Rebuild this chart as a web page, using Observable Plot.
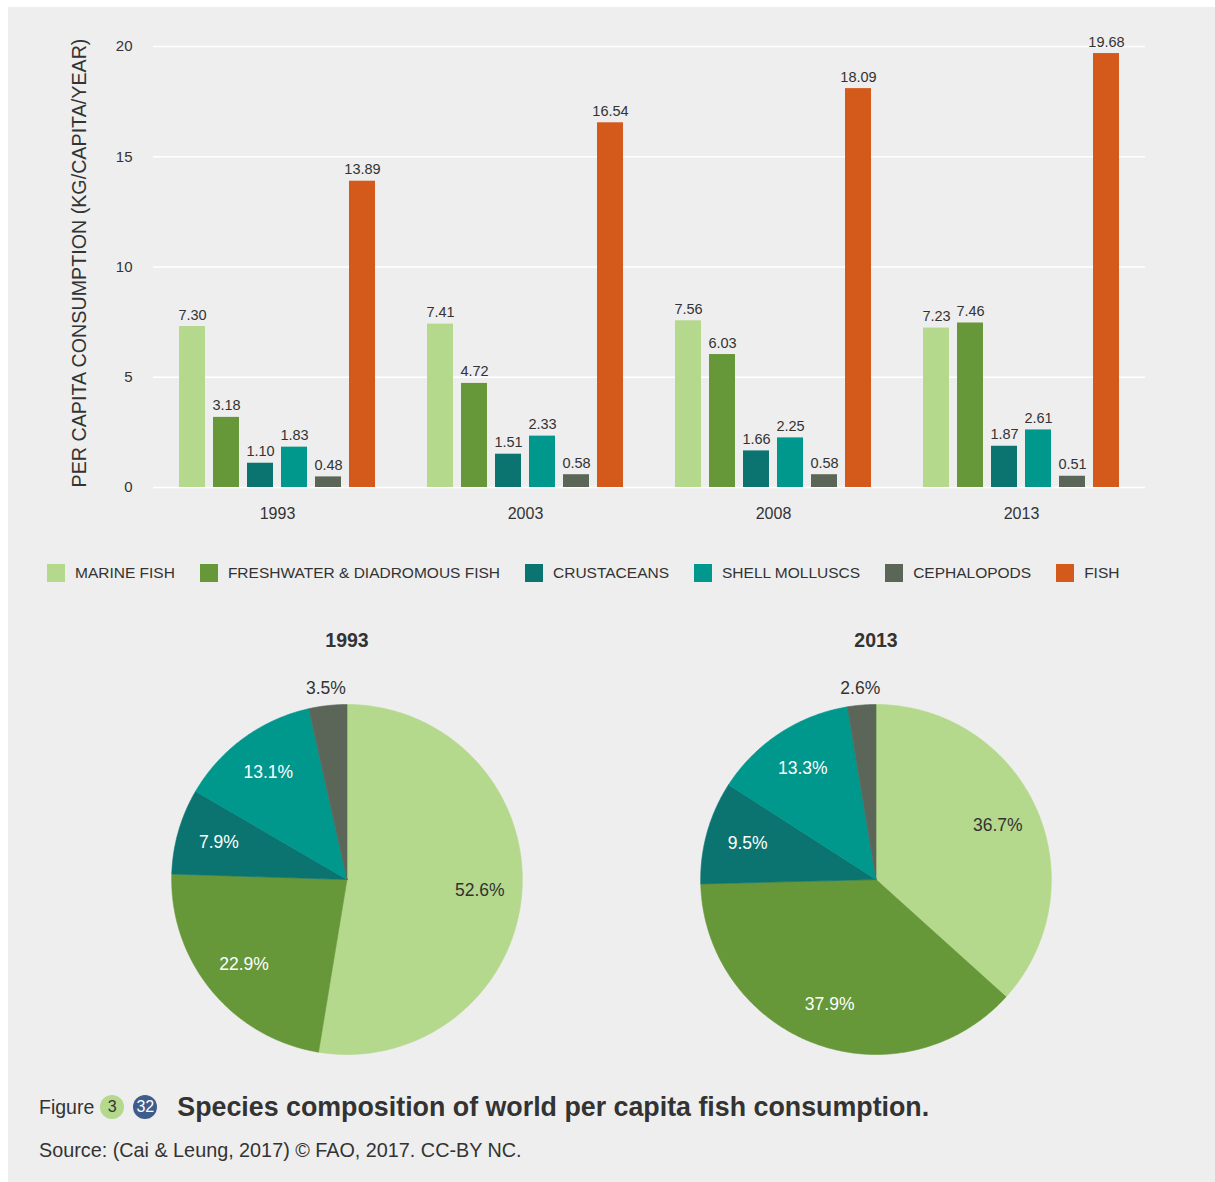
<!DOCTYPE html>
<html>
<head>
<meta charset="utf-8">
<script src="https://cdn.jsdelivr.net/npm/d3@7"></script>
<script src="https://cdn.jsdelivr.net/npm/@observablehq/plot@0.6"></script>
<style>
  html, body { margin: 0; padding: 0; background: #ffffff; }
  body { font-family: "Liberation Sans", Arial, Helvetica, sans-serif; color: #333; }
  #panel { position: absolute; left: 8px; top: 7px; width: 1207px; height: 1175px; background: #eeeeee; overflow: hidden; }
  #bars { position: absolute; left: 0; top: 0; }
  #ylabel { position: absolute; left: 72px; top: 256px; transform: translate(-50%, -50%) rotate(-90deg); white-space: nowrap; font-size: 19.7px; color: #333; line-height: 1; }
  #legend { position: absolute; left: 39px; top: 557px; height: 18px; display: flex; align-items: center; font-size: 15.5px; color: #333; white-space: nowrap; }
  #legend .item { display: flex; align-items: center; margin-right: 25px; }
  #legend .sw { width: 18px; height: 18px; margin-right: 10px; }
  #pies { position: absolute; left: 0; top: 613px; }
  #figline { position: absolute; left: 31px; top: 1085px; height: 30px; display: flex; align-items: center; white-space: nowrap; }
  #figline .fig { font-size: 19.5px; color: #333; margin-right: 6px; }
  #figline .badge { width: 24px; height: 24px; border-radius: 50%; display: flex; align-items: center; justify-content: center; font-size: 16px; margin-right: 9px; }
  #figline .title { font-size: 26.8px; font-weight: bold; color: #333; margin-left: 11px; }
  #source { position: absolute; left: 31px; top: 1128px; height: 30px; line-height: 30px; font-size: 19.8px; color: #333; white-space: nowrap; }
</style>
</head>
<body>
<div id="panel">
  <div id="bars"></div>
  <div id="ylabel"></div>
  <div id="legend"></div>
  <div id="pies"></div>
  <div id="figline"></div>
  <div id="source"></div>
</div>
<script>
// ---------------- data ----------------
const years = ["1993", "2003", "2008", "2013"];
const categories = ["MARINE FISH", "FRESHWATER & DIADROMOUS FISH", "CRUSTACEANS", "SHELL MOLLUSCS", "CEPHALOPODS", "FISH"];
const categoryColors = ["#b4d88c", "#669738", "#0b7471", "#00978d", "#5b6659", "#d35a1a"];
const marineFish = [7.30, 7.41, 7.56, 7.23];
const freshwaterFish = [3.18, 4.72, 6.03, 7.46];
const crustaceans = [1.10, 1.51, 1.66, 1.87];
const shellMolluscs = [1.83, 2.33, 2.25, 2.61];
const cephalopods = [0.48, 0.58, 0.58, 0.51];
const fishTotal = [13.89, 16.54, 18.09, 19.68];
const yTicks = [0, 5, 10, 15, 20];
const yLabel = "PER CAPITA CONSUMPTION (KG/CAPITA/YEAR)";

const pieYears = ["1993", "2013"];
const pieCategories = ["MARINE FISH", "FRESHWATER & DIADROMOUS FISH", "CRUSTACEANS", "SHELL MOLLUSCS", "CEPHALOPODS"];
const pie1993 = [52.6, 22.9, 7.9, 13.1, 3.5];
const pie2013 = [36.7, 37.9, 9.5, 13.3, 2.6];

const figureLabel = "Figure";
const badges = ["3", "32"];
const figureTitle = "Species composition of world per capita fish consumption.";
const sourceText = "Source: (Cai & Leung, 2017) © FAO, 2017. CC-BY NC.";

// ---------------- shared ----------------
const FONT = '"Liberation Sans", Arial, Helvetica, sans-serif';
const TEXT = "#333333";
const colorScale = {domain: categories, range: categoryColors};

// ---------------- bar chart ----------------
const series = [marineFish, freshwaterFish, crustaceans, shellMolluscs, cephalopods, fishTotal];
const barRows = [];
years.forEach((yr, i) => categories.forEach((c, j) => barRows.push({year: yr, cat: c, value: series[j][i]})));
const fmt = d3.format(".2f");

const bars = Plot.plot({
  width: 1207,
  height: 520,
  marginLeft: 145,
  marginRight: 70,
  marginTop: 39,
  marginBottom: 40,
  style: {background: "transparent", fontFamily: FONT, color: TEXT, fontSize: "15px", overflow: "visible"},
  fx: {domain: years, padding: 0, label: null},
  x: {domain: categories, paddingInner: 0.23, paddingOuter: 0.74, axis: null},
  y: {domain: [0, 20], label: null},
  color: colorScale,
  marks: [
    Plot.ruleY(yTicks, {stroke: "#ffffff", strokeWidth: 1.6}),
    Plot.barY(barRows, {fx: "year", x: "cat", y: "value", fill: "cat"}),
    Plot.text(barRows, {fx: "year", x: "cat", y: "value", text: d => fmt(d.value), dy: -7, lineAnchor: "bottom", fontSize: 14.5, fill: TEXT}),
    Plot.axisY({ticks: yTicks, tickSize: 0, tickPadding: 21, fontSize: 15, label: null, fill: TEXT}),
    Plot.axisFx({anchor: "bottom", tickSize: 0, tickPadding: 20, fontSize: 16, label: null, fill: TEXT})
  ]
});
document.getElementById("bars").appendChild(bars);
document.getElementById("ylabel").textContent = yLabel;

// ---------------- legend ----------------
const legend = document.getElementById("legend");
categories.forEach((c, i) => {
  const item = document.createElement("div");
  item.className = "item";
  const sw = document.createElement("div");
  sw.className = "sw";
  sw.style.background = categoryColors[i];
  const lab = document.createElement("span");
  lab.textContent = c;
  item.appendChild(sw);
  item.appendChild(lab);
  legend.appendChild(item);
});

// ---------------- pies ----------------
const R = 175;
const pieSeries = [pie1993, pie2013];
const sliceRows = [];
const labelRows = [];
pieYears.forEach((yr, k) => {
  const arcs = d3.pie().sort(null).value(d => d)(pieSeries[k]);
  arcs.forEach((a, j) => {
    const cat = pieCategories[j];
    const key = yr + "|" + cat;
    sliceRows.push({year: yr, key, cat, px: 0, py: 0});
    const n = Math.max(2, Math.ceil((a.endAngle - a.startAngle) / (Math.PI / 360)) + 1);
    for (let s = 0; s < n; s++) {
      const t = a.startAngle + (a.endAngle - a.startAngle) * s / (n - 1);
      sliceRows.push({year: yr, key, cat, px: R * Math.sin(t), py: R * Math.cos(t)});
    }
    sliceRows.push({year: yr, key, cat, px: 0, py: 0});
    const mid = (a.startAngle + a.endAngle) / 2;
    const inside = a.data >= 5;
    const rl = inside ? R * 0.76 : R + 17;
    const light = d3.hsl(categoryColors[categories.indexOf(cat)]).l > 0.6;
    labelRows.push({
      year: yr,
      cat,
      text: d3.format(".1f")(a.data) + "%",
      lx: rl * Math.sin(mid),
      ly: rl * Math.cos(mid),
      dark: !inside || light
    });
  });
});

const pies = Plot.plot({
  width: 1207,
  height: 459,
  marginLeft: 74,
  marginRight: 75,
  marginTop: 40,
  marginBottom: 0,
  style: {background: "transparent", fontFamily: FONT, color: TEXT, overflow: "visible"},
  fx: {domain: pieYears, padding: 0, label: null},
  x: {domain: [-264, 264], axis: null},
  y: {domain: [-200, 219], axis: null},
  color: colorScale,
  marks: [
    Plot.line(sliceRows, {fx: "year", x: "px", y: "py", z: "key", fill: "cat", stroke: "cat", strokeWidth: 0.6, curve: "linear"}),
    Plot.text(labelRows.filter(d => d.dark), {fx: "year", x: "lx", y: "ly", text: "text", fontSize: 17.5, fill: TEXT}),
    Plot.text(labelRows.filter(d => !d.dark), {fx: "year", x: "lx", y: "ly", text: "text", fontSize: 17.5, fill: "#ffffff"}),
    Plot.axisFx({anchor: "top", tickSize: 0, tickPadding: 14, fontSize: 19.5, fontWeight: "bold", label: null, fill: TEXT})
  ]
});
document.getElementById("pies").appendChild(pies);

// ---------------- caption ----------------
const figline = document.getElementById("figline");
const figSpan = document.createElement("span");
figSpan.className = "fig";
figSpan.textContent = figureLabel;
figline.appendChild(figSpan);
const badgeFills = ["#b4d88c", "#3e5c8c"];
const badgeText = ["#333333", "#ffffff"];
badges.forEach((b, i) => {
  const el = document.createElement("span");
  el.className = "badge";
  el.style.background = badgeFills[i];
  el.style.color = badgeText[i];
  el.textContent = b;
  figline.appendChild(el);
});
const titleSpan = document.createElement("span");
titleSpan.className = "title";
titleSpan.textContent = figureTitle;
figline.appendChild(titleSpan);
document.getElementById("source").textContent = sourceText;
</script>
</body>
</html>
